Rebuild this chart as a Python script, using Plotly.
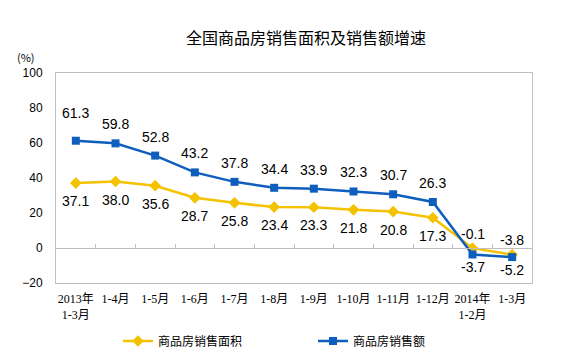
import plotly.graph_objects as go

categories = ["2013年<br>1-3月", "1-4月", "1-5月", "1-6月", "1-7月", "1-8月",
              "1-9月", "1-10月", "1-11月", "1-12月", "2014年<br>1-2月", "1-3月"]
area_growth = [37.1, 38.0, 35.6, 28.7, 25.8, 23.4, 23.3, 21.8, 20.8, 17.3, -0.1, -3.8]
sales_growth = [61.3, 59.8, 52.8, 43.2, 37.8, 34.4, 33.9, 32.3, 30.7, 26.3, -3.7, -5.2]
y_ticks = [-20, 0, 20, 40, 60, 80, 100]

series_area = "商品房销售面积"
series_sales = "商品房销售额"
title = "全国商品房销售面积及销售额增速"
unit_label = "(%)"

YELLOW = "#F5C200"
BLUE = "#0E5EBD"
GRAY = "#BFBFBF"
NARROW = "Liberation Sans Narrow, Arial Narrow, Liberation Sans, Arial"
CJK = "Noto Sans CJK SC"
LABEL_FONT = dict(family=NARROW, size=14, color="#000")

W, H = 574, 357
ML, MR, MT, MB = 56, 42, 73, 74
PW, PH = W - ML - MR, H - MT - MB

# label vertical offsets (px) - style only
area_shift = [-18] * 10 + [14, 15]
sales_shift = [28] + [19] * 9 + [-13, -13]

fig = go.Figure()
fig.add_trace(go.Scatter(x=categories, y=area_growth, name=series_area, mode="lines+markers",
                         line=dict(color=YELLOW, width=2.5),
                         marker=dict(symbol="diamond", size=9, color=YELLOW)))
fig.add_trace(go.Scatter(x=categories, y=sales_growth, name=series_sales, mode="lines+markers",
                         line=dict(color=BLUE, width=2.5),
                         marker=dict(symbol="square", size=8, color=BLUE)))
# helper axis carrying the zero line with category-boundary ticks
fig.add_trace(go.Scatter(x=[None], y=[None], xaxis="x2", showlegend=False, hoverinfo="skip"))

annotations = []
for cat, v, s in zip(categories, area_growth, area_shift):
    annotations.append(dict(x=cat, y=v, xref="x", yref="y", text=f"{v:.1f}", showarrow=False,
                            yshift=s, font=LABEL_FONT))
for cat, v, s in zip(categories, sales_growth, sales_shift):
    annotations.append(dict(x=cat, y=v, xref="x", yref="y", text=f"{v:.1f}", showarrow=False,
                            yshift=s, font=LABEL_FONT))
annotations.append(dict(x=(26 - ML) / PW, y=(MT + PH - 57) / PH, xref="paper", yref="paper",
                        xanchor="center", yanchor="middle", text=unit_label, showarrow=False,
                        font=dict(family=CJK, size=11, color="#000")))

n = len(categories)
y_min, y_max = min(y_ticks), max(y_ticks)

fig.update_layout(
    width=W, height=H,
    margin=dict(l=ML, r=MR, t=MT, b=MB, autoexpand=False),
    paper_bgcolor="white", plot_bgcolor="white",
    title=dict(text=title, x=306 / W, xanchor="center", y=1 - 38 / H, yanchor="middle",
               font=dict(family=CJK, size=16, color="#000")),
    showlegend=True,
    legend=dict(orientation="h", xref="paper", yref="paper", x=(118 - ML) / PW,
                y=(MT + PH - 341) / PH, xanchor="left", yanchor="middle",
                entrywidth=150, entrywidthmode="pixels", itemwidth=30,
                font=dict(family=CJK, size=12, color="#000"), bgcolor="rgba(0,0,0,0)"),
    xaxis=dict(type="category", range=[-0.5, n - 0.5], showline=True, mirror=True, linecolor=GRAY,
               linewidth=1, showgrid=False, ticks="", ticklabelstandoff=5, automargin=False,
               tickfont=dict(family="Liberation Serif, Noto Sans CJK SC", size=12, color="#000")),
    xaxis2=dict(overlaying="x", anchor="free", position=(0 - y_min) / (y_max - y_min), side="bottom",
                range=[-0.5, n - 0.5], tickvals=[i - 0.5 for i in range(n + 1)], ticks="inside",
                ticklen=4, tickcolor=GRAY, showline=True, linecolor=GRAY, linewidth=1,
                showticklabels=False, showgrid=False, zeroline=False, automargin=False),
    yaxis=dict(range=[y_min, y_max], tickvals=y_ticks, showline=True, mirror=True, linecolor=GRAY,
               linewidth=1, showgrid=False, zeroline=False, ticks="", ticklabelstandoff=10,
               automargin=False, tickfont=dict(family=NARROW, size=12, color="#000")),
    annotations=annotations,
)

fig.write_html("out.html", config={"displayModeBar": False},
               post_script="document.body.style.margin='0';document.body.style.overflow='hidden';")
